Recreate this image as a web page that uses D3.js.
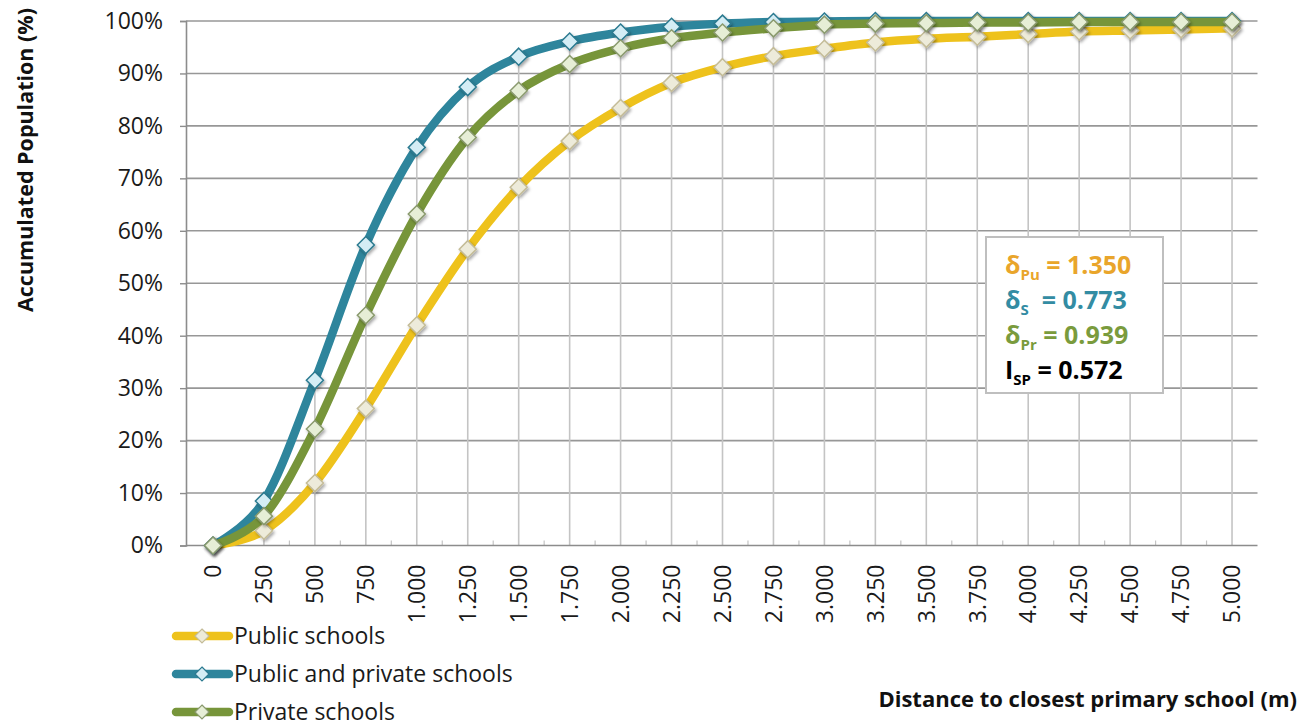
<!DOCTYPE html>
<html>
<head>
<meta charset="utf-8">
<script src="https://cdn.jsdelivr.net/npm/d3@7"></script>
<style>
  html, body { margin: 0; padding: 0; background: #fff; }
  svg { display: block; font-family: "Open Sans", sans-serif; }
</style>
</head>
<body>
<script>
// Distance bands (m) and their axis labels
const distances = [0, 250, 500, 750, 1000, 1250, 1500, 1750, 2000, 2250, 2500,
                   2750, 3000, 3250, 3500, 3750, 4000, 4250, 4500, 4750, 5000];
const distanceLabels = ["0", "250", "500", "750", "1.000", "1.250", "1.500", "1.750",
                        "2.000", "2.250", "2.500", "2.750", "3.000", "3.250", "3.500",
                        "3.750", "4.000", "4.250", "4.500", "4.750", "5.000"];

// Accumulated population (%) within each distance
const publicSchools = [0, 2.8, 11.9, 26.1, 42.0, 56.5, 68.3, 77.1, 83.4, 88.2, 91.2,
                       93.3, 94.7, 95.9, 96.6, 97.0, 97.5, 98.0, 98.2, 98.4, 98.6];
const publicAndPrivate = [0, 8.5, 31.5, 57.3, 75.9, 87.4, 93.2, 96.1, 97.8, 98.9, 99.5,
                          99.8, 99.9, 100, 100, 100, 100, 100, 100, 100, 100];
const privateSchools = [0, 5.6, 22.2, 43.9, 63.2, 77.8, 86.7, 91.8, 94.8, 96.7, 97.8,
                        98.6, 99.3, 99.5, 99.6, 99.7, 99.7, 99.8, 99.8, 99.8, 99.8];

const yTicks = [0, 10, 20, 30, 40, 50, 60, 70, 80, 90, 100];

const seriesNames = ["Public schools", "Public and private schools", "Private schools"];

const series = [
  { name: seriesNames[0], values: publicSchools,    line: "#EEC21C", fill: "#EDEBDA", stroke: "#C4BC98" },
  { name: seriesNames[1], values: publicAndPrivate, line: "#2E859C", fill: "#D4EDF5", stroke: "#2C7A90" },
  { name: seriesNames[2], values: privateSchools,   line: "#77953A", fill: "#E6EED6", stroke: "#8A9A6E" }
];

const W = 1315, H = 727;
const plot = { left: 186, right: 1257.5, top: 21, bottom: 545.5 };

const svg = d3.select("body").append("svg").attr("width", W).attr("height", H);

const defs = svg.append("defs");
const shadow = defs.append("filter").attr("id", "mk-shadow")
  .attr("x", "-50%").attr("y", "-50%").attr("width", "200%").attr("height", "200%");
shadow.append("feDropShadow").attr("dx", 1.5).attr("dy", 2).attr("stdDeviation", 1.6)
  .attr("flood-color", "#000").attr("flood-opacity", 0.35);

const x = d3.scaleBand().domain(distances).range([plot.left + 1.5, plot.right]).padding(0);
const cx = d => x(d) + x.bandwidth() / 2;
const y = d3.scaleLinear().domain([0, 100]).range([plot.bottom, plot.top]);

// Horizontal gridlines
svg.append("g").selectAll("line").data(yTicks.filter(t => t > 0)).join("line")
  .attr("x1", plot.left).attr("x2", plot.right)
  .attr("y1", d => y(d)).attr("y2", d => y(d))
  .attr("stroke", "#979797").attr("stroke-width", 1.6);

// Drop lines from the highest point of each band down to the axis
const topValues = distances.map((d, i) => d3.max(series, s => s.values[i]));
svg.append("g").selectAll("line").data(distances).join("line")
  .attr("x1", d => cx(d)).attr("x2", d => cx(d))
  .attr("y1", (d, i) => y(topValues[i])).attr("y2", plot.bottom)
  .attr("stroke", "#C4C4C4").attr("stroke-width", 1.6);

// Category boundary ticks on the horizontal axis
svg.append("g").selectAll("line").data(distances.slice(1)).join("line")
  .attr("x1", d => x(d)).attr("x2", d => x(d))
  .attr("y1", plot.bottom - 5).attr("y2", plot.bottom)
  .attr("stroke", "#C4C4C4").attr("stroke-width", 1.2);

// Horizontal axis line
svg.append("line")
  .attr("x1", plot.left).attr("x2", plot.right)
  .attr("y1", plot.bottom).attr("y2", plot.bottom)
  .attr("stroke", "#8C8C8C").attr("stroke-width", 1.6);

// Vertical axis
const yAxis = svg.append("g").attr("transform", `translate(${plot.left},0)`)
  .call(d3.axisLeft(y).tickValues(yTicks).tickFormat(d => d + "%").tickSize(6).tickPadding(17));
yAxis.select(".domain").attr("stroke", "#8C8C8C").attr("stroke-width", 1.6);
yAxis.selectAll(".tick line").attr("stroke", "#8C8C8C").attr("stroke-width", 1.4);
yAxis.selectAll(".tick text").attr("font-size", 23).attr("fill", "#1a1a1a")
  .attr("font-family", "'Open Sans', sans-serif");

// Category labels, rotated
const xAxis = svg.append("g").attr("transform", `translate(0,${plot.bottom})`)
  .call(d3.axisBottom(x).tickSize(0).tickFormat((d, i) => distanceLabels[i]));
xAxis.select(".domain").remove();
xAxis.selectAll(".tick text")
  .attr("transform", "rotate(-90)")
  .attr("text-anchor", "end")
  .attr("x", -19).attr("y", 0).attr("dy", "0.36em")
  .attr("font-size", 23).attr("fill", "#1a1a1a")
  .attr("font-family", "'Open Sans', sans-serif");

// Smoothed series lines
const line = d3.line()
  .x((v, i) => cx(distances[i]))
  .y(v => y(v))
  .curve(d3.curveCardinal.tension(0));

const diamond = r => `M0,${-r}L${r},0L0,${r}L${-r},0Z`;

const seriesG = svg.append("g");
series.forEach(s => {
  const g = seriesG.append("g");
  g.append("path").datum(s.values)
    .attr("d", line).attr("fill", "none")
    .attr("stroke", s.line).attr("stroke-width", 8.5)
    .attr("stroke-linejoin", "round").attr("stroke-linecap", "round");
  g.selectAll("path.mk").data(s.values).join("path").attr("class", "mk")
    .attr("d", diamond(8.5))
    .attr("transform", (v, i) => `translate(${cx(distances[i])},${y(v)})`)
    .attr("fill", s.fill).attr("stroke", s.stroke).attr("stroke-width", 1.5)
    .attr("filter", "url(#mk-shadow)");
});

// Legend
const legend = svg.append("g");
series.forEach((s, i) => {
  const ly = 636 + i * 38;
  legend.append("line").attr("x1", 176).attr("x2", 229).attr("y1", ly).attr("y2", ly)
    .attr("stroke", s.line).attr("stroke-width", 8.5).attr("stroke-linecap", "round");
  legend.append("path").attr("d", diamond(7)).attr("transform", `translate(202,${ly})`)
    .attr("fill", s.fill).attr("stroke", s.stroke).attr("stroke-width", 1.2);
  legend.append("text").attr("x", 234).attr("y", ly).attr("dy", "0.36em")
    .attr("font-size", 23).attr("fill", "#1a1a1a").text(s.name);
});

// Axis titles
svg.append("text")
  .attr("transform", "translate(25,160) rotate(-90)")
  .attr("text-anchor", "middle").attr("dy", "0.36em")
  .attr("font-size", 21.5).attr("font-weight", 700).attr("fill", "#111")
  .text("Accumulated Population (%)");

svg.append("text")
  .attr("x", 1297).attr("y", 707).attr("text-anchor", "end")
  .attr("font-size", 22).attr("font-weight", 700).attr("fill", "#111")
  .text("Distance to closest primary school (m)");

// Index box
const box = svg.append("g");
box.append("rect").attr("x", 986).attr("y", 237).attr("width", 177).attr("height", 156)
  .attr("fill", "#fff").attr("stroke", "#BFBFBF").attr("stroke-width", 2);

const indices = [
  { sym: "δ", sub: "Pu", rest: " = 1.350", color: "#E9A52B" },
  { sym: "δ", sub: "S",  rest: "  = 0.773", color: "#338CA3" },
  { sym: "δ", sub: "Pr", rest: " = 0.939", color: "#7A9B3D" },
  { sym: "I", sub: "SP", rest: " = 0.572", color: "#000000" }
];
indices.forEach((d, i) => {
  const t = box.append("text").attr("x", 1005).attr("y", 274 + i * 35)
    .attr("font-size", 25).attr("font-weight", 700).attr("fill", d.color)
    .style("white-space", "pre");
  t.append("tspan").text(d.sym);
  t.append("tspan").attr("font-size", 15).attr("dy", 6).text(d.sub);
  t.append("tspan").attr("dy", -6).text(d.rest);
});
</script>
</body>
</html>
